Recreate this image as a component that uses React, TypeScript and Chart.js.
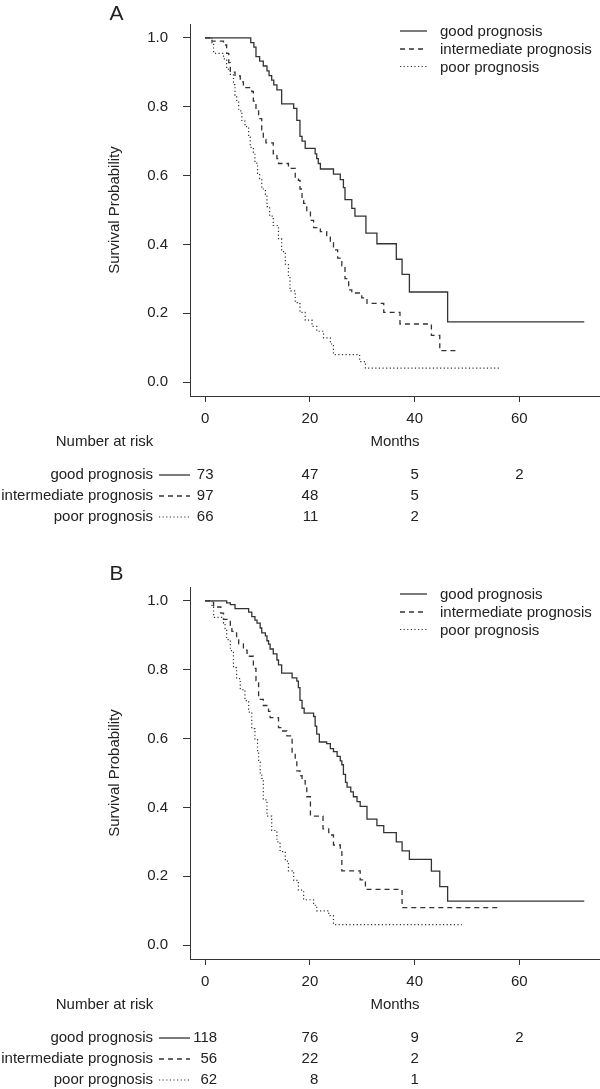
import React, { useEffect, useRef } from "react";
import { Chart, registerables } from "chart.js";

Chart.register(...registerables);

// ---------- data ----------
const monthTicks = [0, 20, 40, 60];
const survivalTicks = [0, 0.2, 0.4, 0.6, 0.8, 1.0];
const groupLabels = ["good prognosis", "intermediate prognosis", "poor prognosis"];

// Panel A
const aGoodMonths = [0, 8.7, 9.3, 9.7, 10.4, 11.1, 11.8, 12.2, 12.7, 13.1, 13.7, 14.6, 16.9, 17.5, 18.1, 18.5, 19.1, 21.0, 21.3, 21.6, 22.0, 24.5, 25.8, 26.4, 26.7, 28.0, 28.6, 30.7, 32.8, 36.5, 37.6, 39.0, 46.3, 72.4];
const aGoodSurvival = [1, 0.986, 0.973, 0.945, 0.932, 0.918, 0.904, 0.890, 0.877, 0.863, 0.849, 0.808, 0.795, 0.760, 0.714, 0.700, 0.679, 0.663, 0.649, 0.635, 0.619, 0.604, 0.588, 0.565, 0.530, 0.505, 0.482, 0.433, 0.402, 0.357, 0.313, 0.262, 0.175, 0.175];

const aIntermediateMonths = [0, 1.3, 3.5, 4.1, 4.5, 4.8, 5.7, 6.7, 7.3, 8.9, 9.2, 9.7, 10.2, 10.8, 11.1, 11.6, 13.0, 13.7, 14.0, 15.9, 17.2, 17.8, 18.1, 18.5, 18.8, 19.4, 20.1, 20.7, 22.0, 23.2, 23.9, 24.5, 25.3, 26.1, 26.7, 27.4, 28.0, 29.9, 30.9, 34.1, 37.2, 43.2, 44.8, 48.1];
const aIntermediateSurvival = [1, 0.990, 0.979, 0.955, 0.928, 0.900, 0.889, 0.872, 0.855, 0.844, 0.816, 0.788, 0.765, 0.733, 0.705, 0.695, 0.663, 0.649, 0.635, 0.621, 0.593, 0.586, 0.561, 0.528, 0.519, 0.496, 0.470, 0.449, 0.437, 0.421, 0.405, 0.384, 0.360, 0.338, 0.301, 0.268, 0.259, 0.245, 0.229, 0.203, 0.169, 0.136, 0.092, 0.092];

const aPoorMonths = [0, 1.3, 1.6, 3.5, 4.1, 4.8, 5.4, 5.7, 6.0, 6.4, 7.0, 7.6, 8.3, 8.6, 9.2, 9.5, 10.0, 10.4, 10.8, 11.5, 11.8, 12.3, 13.0, 14.0, 14.6, 15.3, 15.9, 16.2, 17.2, 18.1, 19.1, 20.4, 21.3, 22.6, 23.9, 24.5, 29.5, 30.6, 56.3];
const aPoorSurvival = [1, 0.985, 0.955, 0.939, 0.909, 0.894, 0.864, 0.833, 0.818, 0.788, 0.758, 0.742, 0.712, 0.682, 0.667, 0.636, 0.606, 0.591, 0.561, 0.545, 0.510, 0.482, 0.455, 0.417, 0.379, 0.343, 0.306, 0.265, 0.231, 0.203, 0.180, 0.162, 0.148, 0.129, 0.111, 0.080, 0.060, 0.041, 0.041];

const aRiskGood = [73, 47, 5, 2];
const aRiskIntermediate = [97, 48, 5];
const aRiskPoor = [66, 11, 2];

// Panel B
const bGoodMonths = [0, 4.1, 4.8, 5.7, 8.3, 8.9, 9.5, 9.9, 10.5, 10.8, 11.5, 11.8, 12.1, 12.4, 13.0, 13.7, 14.0, 14.6, 16.6, 17.5, 17.8, 18.1, 18.5, 18.9, 20.7, 21.0, 21.3, 21.8, 23.2, 23.9, 24.5, 25.2, 25.8, 26.1, 26.4, 26.8, 27.1, 27.8, 28.3, 29.0, 29.6, 30.9, 32.8, 34.1, 36.5, 37.6, 39.0, 43.2, 44.8, 46.3, 72.4];
const bGoodSurvival = [1, 0.994, 0.989, 0.977, 0.967, 0.954, 0.944, 0.935, 0.921, 0.907, 0.898, 0.884, 0.874, 0.860, 0.846, 0.828, 0.814, 0.790, 0.776, 0.767, 0.748, 0.711, 0.688, 0.674, 0.664, 0.636, 0.613, 0.590, 0.585, 0.571, 0.562, 0.548, 0.535, 0.524, 0.496, 0.473, 0.459, 0.445, 0.431, 0.417, 0.403, 0.366, 0.347, 0.327, 0.300, 0.274, 0.249, 0.215, 0.170, 0.128, 0.128];

const bIntermediateMonths = [0, 1.6, 3.0, 3.5, 4.8, 5.1, 6.0, 6.4, 7.3, 8.0, 9.2, 9.7, 10.2, 11.1, 12.1, 12.4, 14.0, 14.6, 15.6, 16.6, 17.2, 17.5, 18.1, 18.5, 19.1, 19.4, 20.1, 22.5, 23.6, 24.5, 25.8, 26.1, 29.6, 30.6, 37.6, 56.3];
const bIntermediateSurvival = [1, 0.982, 0.964, 0.946, 0.929, 0.911, 0.893, 0.875, 0.857, 0.839, 0.804, 0.768, 0.714, 0.696, 0.679, 0.661, 0.632, 0.622, 0.608, 0.557, 0.538, 0.506, 0.492, 0.478, 0.461, 0.431, 0.375, 0.338, 0.320, 0.291, 0.272, 0.216, 0.190, 0.162, 0.109, 0.109];

const bPoorMonths = [0, 1.3, 1.6, 3.5, 3.8, 4.1, 4.8, 5.4, 6.0, 6.7, 7.6, 8.3, 8.9, 9.5, 10.0, 10.2, 10.5, 10.8, 11.1, 11.8, 12.7, 13.7, 14.3, 15.3, 15.9, 16.9, 17.8, 18.8, 20.7, 21.3, 23.6, 24.5, 49.0];
const bPoorSurvival = [1, 0.984, 0.952, 0.935, 0.919, 0.887, 0.855, 0.806, 0.774, 0.742, 0.710, 0.677, 0.629, 0.597, 0.565, 0.532, 0.500, 0.484, 0.422, 0.375, 0.333, 0.300, 0.272, 0.244, 0.216, 0.188, 0.160, 0.132, 0.116, 0.100, 0.086, 0.060, 0.060];

const bRiskGood = [118, 76, 9, 2];
const bRiskIntermediate = [56, 22, 2];
const bRiskPoor = [62, 8, 1];

// ---------- styles ----------
const FONT = '"Liberation Sans", Arial, Helvetica, sans-serif';
const INK = "#222";
const LINE = "#333";
const DASHES = [[], [5, 4], [1.2, 2.4]];
const WIDTHS = [1.3, 1.3, 1.2];
const PLOT_TOP = 9.7;
const PLOT_BOTTOM = 396;
const PLOT_LEFT = 190;
const LEGEND_ROWS = [31, 49, 66.5];
const RISK_ROWS = [475, 496, 517];

type Curve = { months: number[]; survival: number[] };

function drawSample(ctx: CanvasRenderingContext2D, x0: number, x1: number, y: number, i: number) {
  ctx.save();
  ctx.strokeStyle = LINE;
  ctx.lineWidth = WIDTHS[i];
  ctx.setLineDash(DASHES[i]);
  ctx.beginPath();
  ctx.moveTo(x0, y);
  ctx.lineTo(x1, y);
  ctx.stroke();
  ctx.restore();
}

function Panel(props: { letter: string; letterY: number; curves: Curve[]; risks: number[][]; top: number; height: number }) {
  const { letter, letterY, curves, risks, top, height } = props;
  const ref = useRef<HTMLCanvasElement>(null);

  useEffect(() => {
    const canvas = ref.current!;
    const overlay = {
      id: "overlay" + letter,
      afterDraw(chart: any) {
        const ctx: CanvasRenderingContext2D = chart.ctx;
        const xs = chart.scales.x;
        const area = chart.chartArea;
        ctx.save();
        ctx.fillStyle = INK;
        ctx.textBaseline = "middle";

        ctx.font = `21px ${FONT}`;
        ctx.textAlign = "center";
        ctx.fillText(letter, 116.5, letterY);

        ctx.font = `15px ${FONT}`;
        ctx.save();
        ctx.translate(115, (area.top + area.bottom) / 2);
        ctx.rotate(-Math.PI / 2);
        ctx.textAlign = "center";
        ctx.fillText("Survival Probability", 0, 0);
        ctx.restore();

        ctx.textAlign = "center";
        ctx.fillText("Months", (area.left + area.right) / 2, 441.5);
        ctx.fillText("Number at risk", 104.5, 441.5);

        // legend
        groupLabels.forEach((g, i) => {
          const y = LEGEND_ROWS[i];
          drawSample(ctx, 400, 427, y, i);
          ctx.textAlign = "left";
          ctx.fillText(g, 440, y + 1);
        });

        // risk table
        groupLabels.forEach((g, i) => {
          const y = RISK_ROWS[i];
          ctx.textAlign = "right";
          ctx.fillText(g, 153, y);
          drawSample(ctx, 159, 190, y, i);
        });
        monthTicks.forEach((m, j) => {
          const col = risks.map((r) => r[j]).filter((v) => v !== undefined).map(String);
          if (!col.length) return;
          const maxW = Math.max(...col.map((s) => ctx.measureText(s).width));
          const right = xs.getPixelForValue(m) + maxW / 2;
          risks.forEach((r, i) => {
            if (r[j] === undefined) return;
            ctx.textAlign = "right";
            ctx.fillText(String(r[j]), right, RISK_ROWS[i]);
          });
        });
        ctx.restore();
      },
    };

    const tickFont = { family: FONT, size: 15 };
    const chart = new Chart(canvas, {
      type: "line",
      data: {
        datasets: curves.map((c, i) => ({
          label: groupLabels[i],
          data: c.months.map((m, k) => ({ x: m, y: c.survival[k] })),
          borderColor: LINE,
          borderWidth: WIDTHS[i],
          borderDash: DASHES[i],
          stepped: true,
          pointRadius: 0,
          fill: false,
        })),
      },
      options: {
        animation: false,
        responsive: false,
        maintainAspectRatio: false,
        devicePixelRatio: 1,
        layout: { padding: { top: PLOT_TOP, left: 0, right: 0, bottom: 0 } },
        plugins: { legend: { display: false }, tooltip: { enabled: false }, title: { display: false } },
        scales: {
          x: {
            type: "linear",
            min: -2.9,
            max: 75.4,
            afterFit: (s: any) => {
              s.height = height - PLOT_BOTTOM;
            },
            afterBuildTicks: (s: any) => {
              s.ticks = monthTicks.map((v) => ({ value: v }));
            },
            grid: { display: true, drawOnChartArea: false, drawTicks: true, tickLength: 6, color: LINE, lineWidth: 1 },
            border: { display: true, color: LINE, width: 1 },
            ticks: { font: tickFont, color: INK, padding: 8, maxRotation: 0, autoSkip: false, callback: (v: any) => String(v) },
          },
          y: {
            type: "linear",
            min: -0.04,
            max: 1.04,
            afterFit: (s: any) => {
              s.width = PLOT_LEFT;
            },
            afterBuildTicks: (s: any) => {
              s.ticks = survivalTicks.map((v) => ({ value: v }));
            },
            grid: { display: true, drawOnChartArea: false, drawTicks: true, tickLength: 7, color: LINE, lineWidth: 1 },
            border: { display: true, color: LINE, width: 1 },
            ticks: { font: tickFont, color: INK, padding: 15, autoSkip: false, callback: (v: any) => Number(v).toFixed(1) },
          },
        },
      } as any,
      plugins: [overlay],
    });
    return () => chart.destroy();
  }, []);

  return (
    <canvas
      ref={ref}
      width={600}
      height={height}
      style={{ position: "absolute", left: 0, top, width: 600, height, display: "block" }}
    />
  );
}

export default function App() {
  const curvesA: Curve[] = [
    { months: aGoodMonths, survival: aGoodSurvival },
    { months: aIntermediateMonths, survival: aIntermediateSurvival },
    { months: aPoorMonths, survival: aPoorSurvival },
  ];
  const curvesB: Curve[] = [
    { months: bGoodMonths, survival: bGoodSurvival },
    { months: bIntermediateMonths, survival: bIntermediateSurvival },
    { months: bPoorMonths, survival: bPoorSurvival },
  ];
  return (
    <div style={{ position: "absolute", left: 0, top: 0, width: 600, height: 1089, background: "#fff" }}>
      <Panel letter="A" letterY={14} curves={curvesA} risks={[aRiskGood, aRiskIntermediate, aRiskPoor]} top={0} height={563} />
      <Panel letter="B" letterY={11} curves={curvesB} risks={[bRiskGood, bRiskIntermediate, bRiskPoor]} top={563} height={526} />
    </div>
  );
}
